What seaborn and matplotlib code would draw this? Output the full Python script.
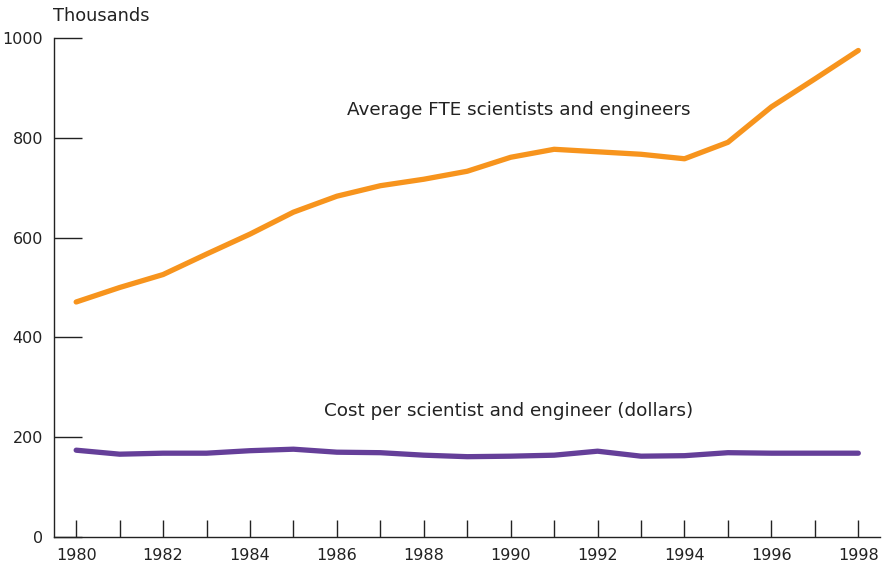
import matplotlib
matplotlib.use('Agg')
import matplotlib.pyplot as plt
import seaborn as sns
import pandas as pd

# Data
years = list(range(1980, 1999))
fte_thousands = [471, 500, 526, 567, 607, 651, 683, 704, 717, 733,
                 761, 777, 772, 767, 758, 791, 862, 918, 975]
cost_thousands = [174, 166, 168, 168, 173, 176, 170, 169, 164, 161,
                  162, 164, 172, 162, 163, 169, 168, 168, 168]
x_ticks = list(range(1980, 1999, 2))
y_ticks = [0, 200, 400, 600, 800, 1000]

ORANGE = '#F7941D'
PURPLE = '#653F99'

df = pd.DataFrame({'year': years, 'fte': fte_thousands, 'cost': cost_thousands})

sns.set_style('white')
plt.rcParams['font.family'] = ['DejaVu Sans']

fig = plt.figure(figsize=(8.84, 5.69), dpi=100)
ax = fig.add_axes([0.0611, 0.0562, 0.9344, 0.877])

sns.lineplot(data=df, x='year', y='fte', color=ORANGE, linewidth=3.8, ax=ax)
sns.lineplot(data=df, x='year', y='cost', color=PURPLE, linewidth=3.8, ax=ax)

ax.set_xlim(1979.49, 1998.5)
ax.set_ylim(0, 1000)
ax.set_xticks(x_ticks)
ax.set_xticks(years, minor=True)
ax.set_yticks(y_ticks)
ax.set_xlabel('')
ax.set_ylabel('')

ax.tick_params(axis='x', which='both', bottom=True, direction='in', length=12, width=1,
               color='#222222', labelsize=11.5, pad=8, labelcolor='#222222')
ax.tick_params(axis='y', left=True, direction='in', length=20, width=1,
               color='#222222', labelsize=11.5, pad=8, labelcolor='#222222')

sns.despine(ax=ax, top=True, right=True)
for side in ['left', 'bottom']:
    ax.spines[side].set_color('#222222')
    ax.spines[side].set_linewidth(1)

ax.text(1990.18, 855, 'Average FTE scientists and engineers', ha='center', va='center',
        fontsize=13.2, color='#222222')
ax.text(1989.95, 253, 'Cost per scientist and engineer (dollars)', ha='center', va='center',
        fontsize=13.2, color='#222222')
fig.text(0.06, 0.972, 'Thousands', ha='left', va='center', fontsize=12.8, color='#222222')

fig.savefig('out.png', dpi=100)
